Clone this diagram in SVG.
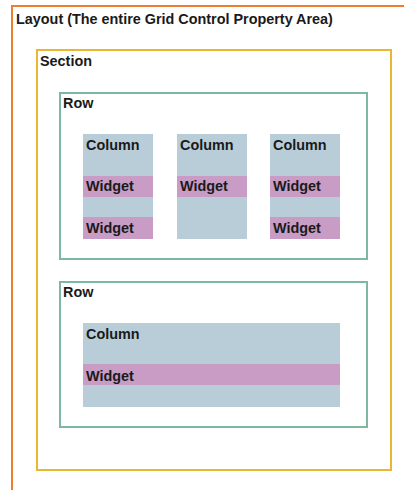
<svg xmlns="http://www.w3.org/2000/svg" width="404" height="490" viewBox="0 0 404 490">
<style>
.t{font-family:"Liberation Sans",Arial,sans-serif;font-weight:bold;font-size:14.4px;fill:#1a1a1a}
.col{fill:#b8cdd8}
.wid{fill:#c89cc5}
.row{fill:none;stroke:#7fb8a0;stroke-width:2}
</style>
<rect width="404" height="490" fill="#fff"/>
<g id="layout">
<rect x="12" y="6" width="400" height="500" fill="none" stroke="#ed7d31" stroke-width="2"/>
<text class="t" x="16" y="24">Layout (The entire Grid Control Property Area)</text>
</g>
<g id="section">
<rect x="37" y="50" width="354" height="420" fill="none" stroke="#e9b732" stroke-width="2"/>
<text class="t" x="40" y="66">Section</text>
</g>
<g id="row1">
<rect class="row" x="60" y="93" width="307" height="166"/>
<text class="t" x="63" y="108">Row</text>
</g>
<g id="row1-col1">
<rect class="col" x="83" y="134" width="70" height="105"/>
<rect class="wid" x="83" y="176" width="70" height="21"/>
<rect class="wid" x="83" y="217" width="70" height="22"/>
<text class="t" x="86" y="150">Column</text>
<text class="t" x="86" y="191">Widget</text>
<text class="t" x="86" y="233">Widget</text>
</g>
<g id="row1-col2">
<rect class="col" x="177" y="134" width="70" height="105"/>
<rect class="wid" x="177" y="176" width="70" height="21"/>
<text class="t" x="180" y="150">Column</text>
<text class="t" x="180" y="191">Widget</text>
</g>
<g id="row1-col3">
<rect class="col" x="270" y="134" width="70" height="105"/>
<rect class="wid" x="270" y="176" width="70" height="21"/>
<rect class="wid" x="270" y="217" width="70" height="22"/>
<text class="t" x="273" y="150">Column</text>
<text class="t" x="273" y="191">Widget</text>
<text class="t" x="273" y="233">Widget</text>
</g>
<g id="row2">
<rect class="row" x="60" y="282" width="307" height="145"/>
<text class="t" x="63" y="297">Row</text>
</g>
<g id="row2-col1">
<rect class="col" x="83" y="323" width="257" height="84"/>
<rect class="wid" x="83" y="364" width="257" height="21"/>
<text class="t" x="86" y="339">Column</text>
<text class="t" x="86" y="381">Widget</text>
</g>
<g id="connectors"></g>
</svg>
